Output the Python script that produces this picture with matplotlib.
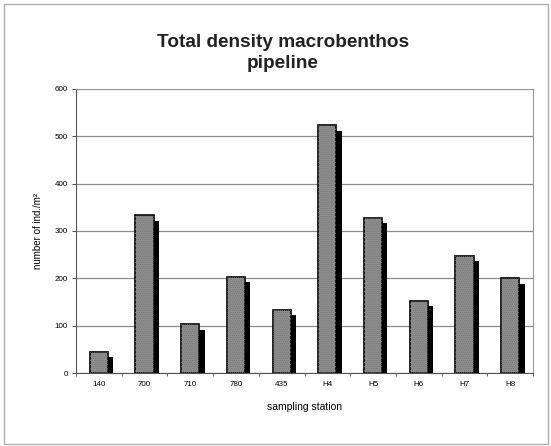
import matplotlib
matplotlib.use("Agg")
import matplotlib.pyplot as plt
import matplotlib.patheffects as pe
from matplotlib.patches import Rectangle
import numpy as np

STATIONS = ["140", "700", "710", "780", "435", "H4", "H5", "H6", "H7", "H8"]
DENSITY = [45, 333, 103, 203, 133, 523, 327, 153, 247, 200]
Y_TICKS = [0, 100, 200, 300, 400, 500, 600]

plt.rcParams["font.family"] = ["Liberation Sans", "DejaVu Sans"]
plt.rcParams["hatch.linewidth"] = 0.6


def main():
    fig = plt.figure(figsize=(5.51, 4.46), dpi=100)
    ax = fig.add_axes([76 / 551, 1 - 373 / 446, (533 - 76) / 551, (373 - 89) / 446])

    x = np.arange(len(STATIONS))
    shadow = [pe.SimplePatchShadow(offset=(3.8, -3.8), shadow_rgbFace="black", alpha=1.0),
              pe.Normal()]
    bars = ax.bar(x, DENSITY, width=0.4, color="#8f8f8f", edgecolor="black",
                  linewidth=1.2, path_effects=shadow, zorder=3)
    # fine stipple on top of the grey fill
    for b in bars:
        ax.add_patch(Rectangle(b.get_xy(), b.get_width(), b.get_height(),
                               fill=False, hatch="........", edgecolor="#777777",
                               linewidth=0, zorder=3.5))

    ax.set_xlim(-0.5, len(STATIONS) - 0.5)
    ax.set_ylim(0, 600)
    ax.set_yticks(Y_TICKS)
    ax.set_yticklabels([str(v) for v in Y_TICKS], fontsize=5.8)
    ax.set_xticks(x)
    ax.set_xticklabels(STATIONS, fontsize=5.8)
    ax.set_xticks(np.arange(len(STATIONS) + 1) - 0.5, minor=True)
    ax.tick_params(axis="x", which="major", length=0, pad=6)
    ax.tick_params(axis="x", which="minor", length=2.5, direction="out", color="#555555")
    ax.tick_params(axis="y", length=3, direction="out", color="#555555", pad=3)

    ax.grid(axis="y", color="#8c8c8c", linewidth=0.9, zorder=0)
    for side in ["top", "right"]:
        ax.spines[side].set_color("#9a9a9a")
        ax.spines[side].set_linewidth(0.8)
    for side in ["left", "bottom"]:
        ax.spines[side].set_color("#555555")
        ax.spines[side].set_linewidth(0.8)

    ax.set_ylabel("number of ind./m\u00b2", fontsize=7, labelpad=8)
    ax.set_xlabel("sampling station", fontsize=7.5, labelpad=10)

    fig.text(283 / 551, 1 - 53 / 446, "Total density macrobenthos\npipeline",
             ha="center", va="center", fontsize=13.7, fontweight="bold",
             linespacing=1.35, color="#222222")

    fig.patches.append(Rectangle((4 / 551, 2 / 446), 544 / 551, 440 / 446,
                                 transform=fig.transFigure, fill=False,
                                 edgecolor="#b0b0b0", linewidth=1.0))

    fig.savefig("out.png", dpi=100)


if __name__ == "__main__":
    main()
